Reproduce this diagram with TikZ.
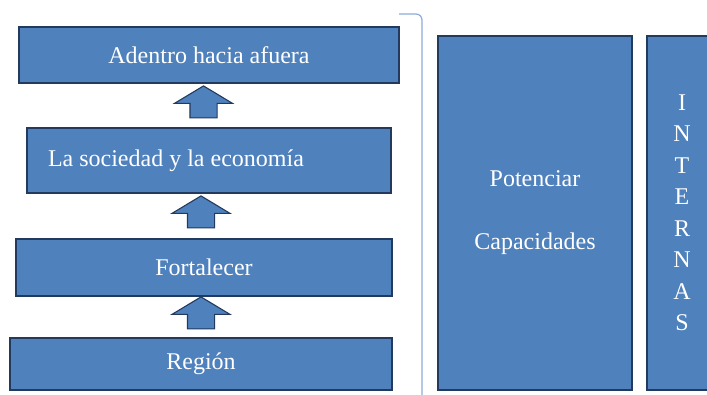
\documentclass[tikz,border=0pt]{standalone}
\usepackage{fontspec}
\setmainfont{Liberation Serif}
\usetikzlibrary{shapes.arrows}
\definecolor{boxfill}{HTML}{4F81BD}
\definecolor{boxline}{HTML}{223A5E}
\definecolor{bracecol}{HTML}{8EAADB}
\tikzset{box/.style={rectangle, draw=boxline, fill=boxfill, line width=1.8pt,
                     text=white, inner sep=0pt, font=\fontsize{24}{28}\selectfont}}
\tikzset{uparrow/.style={single arrow, draw=boxline, fill=boxfill, line width=1.1pt,
                     shape border rotate=90, inner xsep=13pt, inner ysep=0pt,
                     minimum height=32pt, single arrow head extend=15.5pt,
                     single arrow tip angle=118}}

\begin{document}
\begin{tikzpicture}[x=1pt, y=-1pt]
  \useasboundingbox (0,0) rectangle (707,395);
  \clip (0,0) rectangle (707,395);

  % ---- left column ----
  \node[box, minimum width=380pt, minimum height=56pt] (afuera) at (209,55)
      {Adentro hacia afuera};
  \node[box, minimum width=364pt, minimum height=65pt]
      (sociedad) at (209,160.5) {\makebox[322pt][l]{La sociedad y la economía}};
  \node[box, minimum width=376pt, minimum height=57pt] (fortalecer) at (204,267.5)
      {Fortalecer};
  \node[box, minimum width=382pt, minimum height=52pt] (region) at (201,364)
      {Región};

  % ---- block arrows ----
  \node[uparrow] (a1) at (203.5,106) {};
  \node[uparrow] (a2) at (201,216) {};
  \node[uparrow] (a3) at (201,317) {};

  % ---- bracket ----
  \coordinate (bt) at (399,14);
  \coordinate (bb) at (422,396);
  \draw[bracecol, line width=1.2pt, rounded corners=6pt] (bt) -| (bb);

  % ---- right column ----
  \node[box, minimum width=194pt, minimum height=354pt, align=center] (potenciar)
      at (535,213) {Potenciar\\[35pt]Capacidades};
  \node[box, minimum width=70pt, minimum height=354pt, align=center,
        font=\fontsize{24}{31.5}\selectfont] (internas) at (682,213)
      {I\\N\\T\\E\\R\\N\\A\\S};
\end{tikzpicture}
\end{document}
